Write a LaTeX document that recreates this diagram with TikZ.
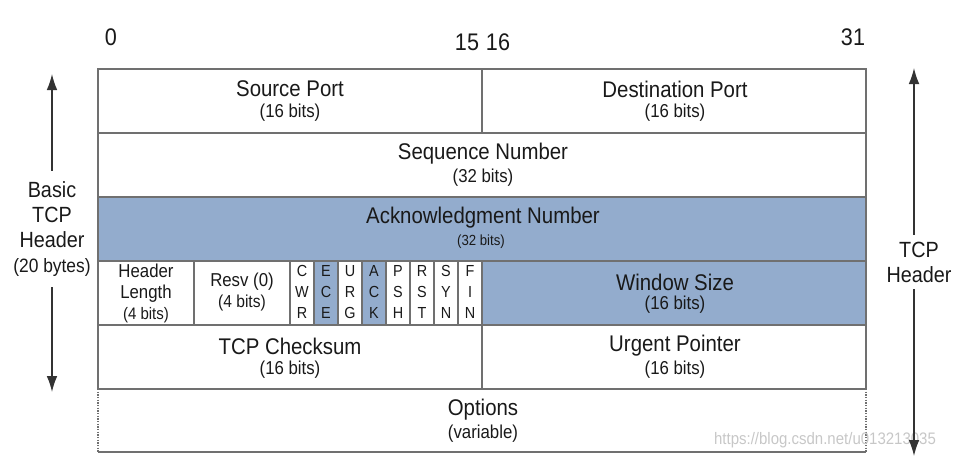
\documentclass[tikz,border=0pt]{standalone}
\usepackage{fontspec}
\setmainfont{Liberation Sans}[FakeStretch=0.9]
\usetikzlibrary{arrows.meta}

\definecolor{fieldblue}{RGB}{147,172,205}
\definecolor{rulegray}{RGB}{112,112,112}
\definecolor{textdark}{RGB}{25,25,25}

\tikzset{
  grid line/.style={draw=rulegray, line width=1.5pt},
  flag line/.style={draw=rulegray, line width=1pt},
  fieldname/.style={font=\fontsize{17}{20}\selectfont, text=textdark, inner sep=0pt},
  fieldbits/.style={font=\fontsize{14}{17}\selectfont, text=textdark, inner sep=0pt},
  bitnum/.style={font=\fontsize{18}{20}\selectfont, text=textdark, inner sep=0pt},
  flag/.style={font=\fontsize{12}{15.75}\selectfont, text=textdark, align=center, inner sep=0pt},
  side/.style={font=\fontsize{16.5}{18.75}\selectfont, text=textdark, align=center, inner xsep=0pt},
  span arrow/.style={draw=black!80, line width=1pt, -{Latex[length=12pt,width=8pt]}},
}

\begin{document}
\begin{tikzpicture}[x=0.75pt, y=-0.75pt]
  \useasboundingbox (0,0) rectangle (953,458);

  % shaded fields
  \fill[fieldblue] (98,197) rectangle (866,261);
  \fill[fieldblue] (482,261) rectangle (866,325);
  \fill[fieldblue] (314,261) rectangle (338,325);
  \fill[fieldblue] (362,261) rectangle (386,325);

  % rows of the header
  \draw[grid line] (98,69) rectangle (866,389);
  \foreach \y in {133,197,261,325}
    \draw[grid line] (98,\y) -- (866,\y);
  \draw[grid line] (482,69) -- (482,133);
  \draw[grid line] (482,261) -- (482,389);
  \draw[grid line] (194,261) -- (194,325);
  \draw[grid line] (290,261) -- (290,325);
  \foreach \x in {314,338,...,458}
    \draw[flag line] (\x,261) -- (\x,325);

  % options row
  \draw[flag line, densely dotted] (98,389) -- (98,452);
  \draw[flag line, densely dotted] (866,389) -- (866,452);
  \draw[grid line] (98,452) -- (866,452);

  % bit positions
  \node[bitnum] (bit0) at (111,37) {0};
  \node[bitnum] (bit15) at (467,42) {15};
  \node[bitnum] (bit16) at (498,42) {16};
  \node[bitnum] (bit31) at (853,37) {31};

  % fields
  \node[fieldname] (srcport) at (290,89) {Source Port};
  \node[fieldbits] (srcbits) at (290,113) {(16 bits)};
  \node[fieldname] (dstport) at (675,89) {Destination Port};
  \node[fieldbits] (dstbits) at (675,113) {(16 bits)};
  \node[fieldname] (seqnum) at (483,154) {Sequence Number};
  \node[fieldbits] (seqbits) at (483,178) {(32 bits)};
  \node[fieldname] (acknum) at (483,218) {Acknowledgment Number};
  \node[fieldbits, font=\fontsize{11}{13}\selectfont] (ackbits) at (481,242) {(32 bits)};
  \node[flag, font=\fontsize{14}{15.75}\selectfont] (hdrlen) at (146,293)
    {Header\\Length\\{\fontsize{12.5}{15.75}\selectfont(4 bits)}};
  \node[fieldbits] (resv) at (242,282) {Resv (0)};
  \node[fieldbits, font=\fontsize{13}{15}\selectfont] (resvbits) at (242,303) {(4 bits)};
  \node[fieldname] (window) at (675,282) {Window Size};
  \node[fieldbits] (winbits) at (675,305) {(16 bits)};
  \node[fieldname] (checksum) at (290,346) {TCP Checksum};
  \node[fieldbits] (chkbits) at (290,370) {(16 bits)};
  \node[fieldname] (urgent) at (675,346) {Urgent Pointer};
  \node[fieldbits] (urgbits) at (675,370) {(16 bits)};
  \node[fieldname] (options) at (483,410) {Options};
  \node[fieldbits] (optbits) at (483,434) {(variable)};

  % flags
  \node[flag] (cwr) at (302,292) {C\\W\\R};
  \node[flag] (ece) at (326,292) {E\\C\\E};
  \node[flag] (urg) at (350,292) {U\\R\\G};
  \node[flag] (ack) at (374,292) {A\\C\\K};
  \node[flag] (psh) at (398,292) {P\\S\\H};
  \node[flag] (rst) at (422,292) {R\\S\\T};
  \node[flag] (syn) at (446,292) {S\\Y\\N};
  \node[flag] (fin) at (470,292) {F\\I\\N};

  % watermark
  \node[font=\fontsize{12.5}{14}\selectfont, text=black!22, inner sep=0pt] (mark) at (825,440)
    {https://blog.csdn.net/u013213035};

  % basic header span
  \node[side, inner ysep=8pt] (basiclbl) at (52,229)
    {Basic\\TCP\\Header\\{\fontsize{14.5}{18.75}\selectfont(20 bytes)}};
  \coordinate (basictop) at (52,74);
  \coordinate (basicbot) at (52,392);
  \draw[span arrow] (basiclbl.north) -- (basictop);
  \draw[span arrow] (basiclbl.south) -- (basicbot);

  % full header span
  \node[side, inner ysep=5pt] (tcplbl) at (919,262) {TCP\\Header};
  \coordinate (tcptop) at (914,68);
  \coordinate (tcpbot) at (914,456);
  \draw[span arrow] (tcplbl.north -| tcptop) -- (tcptop);
  \draw[span arrow] (tcplbl.south -| tcpbot) -- (tcpbot);
\end{tikzpicture}
\end{document}
